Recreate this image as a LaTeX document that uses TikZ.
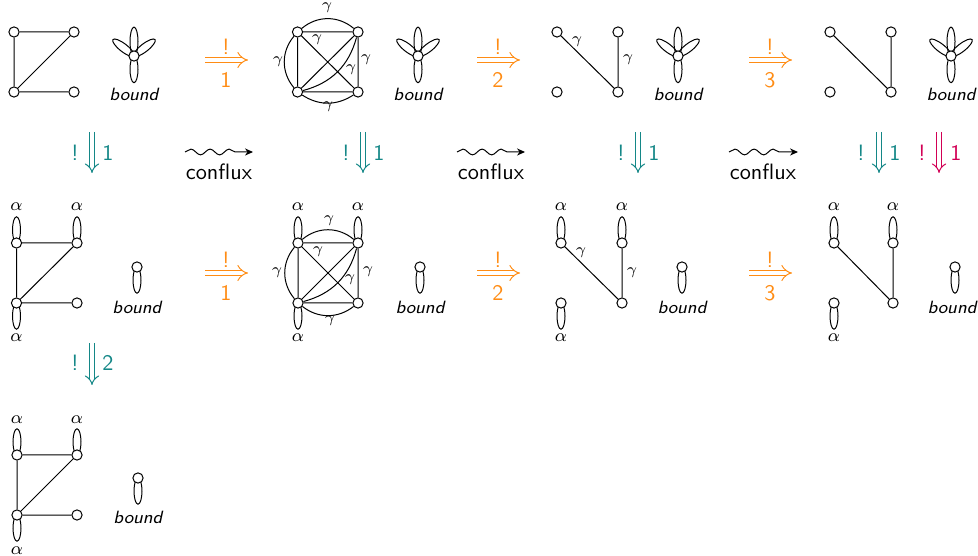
\documentclass[tikz,border=0pt]{standalone}
\usetikzlibrary{arrows.meta,decorations.pathmorphing,backgrounds}
\definecolor{myorange}{RGB}{255,140,20}
\definecolor{myteal}{RGB}{20,135,135}
\definecolor{mycrimson}{RGB}{210,0,85}
\newcommand\mypetal[3]{\draw[petal, shift={(#1.center)}, rotate=#2] (#3,0) ellipse [x radius=#3, y radius=1.8pt];}
\begin{document}
\begin{tikzpicture}[x=0.45pt,y=-0.45pt, font=\sffamily,
  vtx/.style={circle,draw,fill=white,inner sep=0pt,minimum size=4.6pt,line width=0.45pt},
  gedge/.style={line width=0.45pt},
  petal/.style={line width=0.45pt},
  boundlbl/.style={font=\sffamily\itshape\footnotesize, inner sep=0pt},
  glab/.style={font=\scriptsize, inner sep=0pt},
  alab/.style={font=\footnotesize, inner sep=0pt},
  txt/.style={inner sep=0pt},
  harr/.style={draw=myorange, line width=0.45pt, double, double distance=2.1pt, -{Implies}},
  varr/.style={line width=0.45pt, double, double distance=1.8pt, -{Implies}},
  squig/.style={line width=0.45pt, decorate, decoration={snake, amplitude=1.3pt, segment length=8.6pt, post length=4.5pt}, -{Stealth[length=3.6pt,width=3.2pt]}}
]
\useasboundingbox (0,0) rectangle (978,556);

% ===== Row 1 =====
% graph 1
\node[vtx] (r1a) at (14,32) {};
\node[vtx] (r1b) at (74,32) {};
\node[vtx] (r1c) at (14,92) {};
\node[vtx] (r1d) at (74,92) {};
\draw[gedge] (r1a) -- (r1b) (r1a) -- (r1c) (r1c) -- (r1b) (r1c) -- (r1d);
\node[vtx] (f1) at (134,56) {};
\node[boundlbl] (bl1) at (134,94) {bound};

\coordinate (h1s) at (205,60); \coordinate (h1e) at (248,60);
\draw[harr] (h1s) -- (h1e);
\node[txt, text=myorange] (h1x) at (226,47) {!};
\node[txt, text=myorange] (h1n) at (226,80) {1};

% graph 2
\node[vtx] (r2a) at (297.5,32) {};
\node[vtx] (r2b) at (358,32) {};
\node[vtx] (r2c) at (297.5,92) {};
\node[vtx] (r2d) at (358,92) {};
\draw[gedge] (r2a) -- (r2b) (r2a) -- (r2c) (r2b) -- (r2d) (r2c) -- (r2d) (r2a) -- (r2d) (r2c) -- (r2b);
\draw[gedge] (r2a) to[bend left=40] (r2b);
\draw[gedge] (r2a) to[bend right=40] (r2c);
\draw[gedge] (r2c) to[bend right=33] (r2d);
\draw[gedge] (r2c) to[bend right=30] (r2b);
\node[glab] (r2g1) at (327,8) {$\gamma$};
\node[glab] (r2g2) at (317,40) {$\gamma$};
\node[glab] (r2g3) at (278,62) {$\gamma$};
\node[glab] (r2g4) at (351,70) {$\gamma$};
\node[glab] (r2g5) at (366,60) {$\gamma$};
\node[glab] (r2g6) at (328,107) {$\gamma$};
\node[vtx] (f2) at (418,56) {};
\node[boundlbl] (bl2) at (418,94) {bound};

\coordinate (h2s) at (477,60); \coordinate (h2e) at (520,60);
\draw[harr] (h2s) -- (h2e);
\node[txt, text=myorange] (h2x) at (498,47) {!};
\node[txt, text=myorange] (h2n) at (498,80) {2};

% graph 3
\node[vtx] (r3a) at (557,32) {};
\node[vtx] (r3b) at (618,32) {};
\node[vtx] (r3c) at (557,92) {};
\node[vtx] (r3d) at (618,92) {};
\draw[gedge] (r3a) -- (r3d) (r3b) -- (r3d);
\node[glab] (r3g1) at (577,42) {$\gamma$};
\node[glab] (r3g2) at (628,60) {$\gamma$};
\node[vtx] (f3) at (678,56) {};
\node[boundlbl] (bl3) at (678,94) {bound};

\coordinate (h3s) at (749,60); \coordinate (h3e) at (792,60);
\draw[harr] (h3s) -- (h3e);
\node[txt, text=myorange] (h3x) at (770,47) {!};
\node[txt, text=myorange] (h3n) at (770,80) {3};

% graph 4
\node[vtx] (r4a) at (830,32) {};
\node[vtx] (r4b) at (891,32) {};
\node[vtx] (r4c) at (830,92) {};
\node[vtx] (r4d) at (891,92) {};
\draw[gedge] (r4a) -- (r4d) (r4b) -- (r4d);
\node[vtx] (f4) at (951,56) {};
\node[boundlbl] (bl4) at (951,94) {bound};

% ===== middle arrows =====
\coordinate (v1s) at (92,132); \coordinate (v1e) at (92,173);
\draw[varr, draw=myteal] (v1s) -- (v1e);
\node[txt, text=myteal] (v1x) at (75,153) {!};
\node[txt, text=myteal] (v1n) at (108,153) {1};

\coordinate (c1s) at (185,152); \coordinate (c1e) at (253,152);
\draw[squig] (c1s) -- (c1e);
\node[txt] (c1t) at (219,172) {conflux};

\coordinate (v2s) at (363,132); \coordinate (v2e) at (363,173);
\draw[varr, draw=myteal] (v2s) -- (v2e);
\node[txt, text=myteal] (v2x) at (346,153) {!};
\node[txt, text=myteal] (v2n) at (379,153) {1};

\coordinate (c2s) at (457,152); \coordinate (c2e) at (525,152);
\draw[squig] (c2s) -- (c2e);
\node[txt] (c2t) at (491,172) {conflux};

\coordinate (v3s) at (638,132); \coordinate (v3e) at (638,173);
\draw[varr, draw=myteal] (v3s) -- (v3e);
\node[txt, text=myteal] (v3x) at (621,153) {!};
\node[txt, text=myteal] (v3n) at (654,153) {1};

\coordinate (c3s) at (729,152); \coordinate (c3e) at (798,152);
\draw[squig] (c3s) -- (c3e);
\node[txt] (c3t) at (763,172) {conflux};

\coordinate (v4s) at (879,132); \coordinate (v4e) at (879,173);
\draw[varr, draw=myteal] (v4s) -- (v4e);
\node[txt, text=myteal] (v4x) at (861,153) {!};
\node[txt, text=myteal] (v4n) at (895,153) {1};

\coordinate (v5s) at (939,132); \coordinate (v5e) at (939,173);
\draw[varr, draw=mycrimson] (v5s) -- (v5e);
\node[txt, text=mycrimson] (v5x) at (922,153) {!};
\node[txt, text=mycrimson] (v5n) at (956,153) {1};

% ===== Row 2 =====
\node[vtx] (s1a) at (16.5,243) {};
\node[vtx] (s1b) at (77,243) {};
\node[vtx] (s1c) at (16.5,303) {};
\node[vtx] (s1d) at (77,303) {};
\draw[gedge] (s1a) -- (s1b) (s1a) -- (s1c) (s1c) -- (s1b) (s1c) -- (s1d);
\node[alab] (s1al1) at (16.5,207) {$\alpha$};
\node[alab] (s1al2) at (77,207) {$\alpha$};
\node[alab] (s1al3) at (16.5,338) {$\alpha$};
\node[vtx] (b1) at (137,267) {};
\node[boundlbl] (bl5) at (137,307) {bound};

\coordinate (h4s) at (205,273); \coordinate (h4e) at (248,273);
\draw[harr] (h4s) -- (h4e);
\node[txt, text=myorange] (h4x) at (226,260) {!};
\node[txt, text=myorange] (h4n) at (226,293) {1};

\node[vtx] (s2a) at (298,243) {};
\node[vtx] (s2b) at (358,243) {};
\node[vtx] (s2c) at (298,303) {};
\node[vtx] (s2d) at (358,303) {};
\draw[gedge] (s2a) -- (s2b) (s2a) -- (s2c) (s2b) -- (s2d) (s2c) -- (s2d) (s2a) -- (s2d) (s2c) -- (s2b);
\draw[gedge] (s2a) to[bend left=40] (s2b);
\draw[gedge] (s2a) to[bend right=40] (s2c);
\draw[gedge] (s2c) to[bend right=38] (s2d);
\draw[gedge] (s2c) to[bend right=30] (s2b);
\node[glab] (s2g1) at (329,221) {$\gamma$};
\node[glab] (s2g2) at (318,252) {$\gamma$};
\node[glab] (s2g3) at (277,273) {$\gamma$};
\node[glab] (s2g4) at (350,280) {$\gamma$};
\node[glab] (s2g5) at (368,272) {$\gamma$};
\node[glab] (s2g6) at (330,321) {$\gamma$};
\node[alab] (s2al1) at (298,207) {$\alpha$};
\node[alab] (s2al2) at (358,207) {$\alpha$};
\node[alab] (s2al3) at (298,338) {$\alpha$};
\node[vtx] (b2) at (420,267) {};
\node[boundlbl] (bl6) at (420,307) {bound};

\coordinate (h5s) at (477,273); \coordinate (h5e) at (520,273);
\draw[harr] (h5s) -- (h5e);
\node[txt, text=myorange] (h5x) at (498,260) {!};
\node[txt, text=myorange] (h5n) at (498,293) {2};

\node[vtx] (s3a) at (561,243) {};
\node[vtx] (s3b) at (622,243) {};
\node[vtx] (s3c) at (561,303) {};
\node[vtx] (s3d) at (622,303) {};
\draw[gedge] (s3a) -- (s3d) (s3b) -- (s3d);
\node[glab] (s3g1) at (581,253) {$\gamma$};
\node[glab] (s3g2) at (632,273) {$\gamma$};
\node[alab] (s3al1) at (561,207) {$\alpha$};
\node[alab] (s3al2) at (622,207) {$\alpha$};
\node[alab] (s3al3) at (561,338) {$\alpha$};
\node[vtx] (b3) at (682,267) {};
\node[boundlbl] (bl7) at (682,307) {bound};

\coordinate (h6s) at (749,273); \coordinate (h6e) at (792,273);
\draw[harr] (h6s) -- (h6e);
\node[txt, text=myorange] (h6x) at (770,260) {!};
\node[txt, text=myorange] (h6n) at (770,293) {3};

\node[vtx] (s4a) at (834,243) {};
\node[vtx] (s4b) at (893,243) {};
\node[vtx] (s4c) at (834,303) {};
\node[vtx] (s4d) at (893,303) {};
\draw[gedge] (s4a) -- (s4d) (s4b) -- (s4d);
\node[alab] (s4al1) at (834,207) {$\alpha$};
\node[alab] (s4al2) at (893,207) {$\alpha$};
\node[alab] (s4al3) at (834,338) {$\alpha$};
\node[vtx] (b4) at (955,267) {};
\node[boundlbl] (bl8) at (952,307) {bound};

% ===== Row 3 =====
\coordinate (v6s) at (92,343); \coordinate (v6e) at (92,385);
\draw[varr, draw=myteal] (v6s) -- (v6e);
\node[txt, text=myteal] (v6x) at (75,363) {!};
\node[txt, text=myteal] (v6n) at (108,363) {2};

\node[vtx] (t1a) at (17,455) {};
\node[vtx] (t1b) at (77,455) {};
\node[vtx] (t1c) at (17,515) {};
\node[vtx] (t1d) at (77,515) {};
\draw[gedge] (t1a) -- (t1b) (t1a) -- (t1c) (t1c) -- (t1b) (t1c) -- (t1d);
\node[alab] (t1al1) at (17,420) {$\alpha$};
\node[alab] (t1al2) at (77,420) {$\alpha$};
\node[alab] (t1al3) at (17,551) {$\alpha$};
\node[vtx] (b5) at (138,478) {};
\node[boundlbl] (bl9) at (138,517) {bound};

% ===== petals / loops (behind the vertices) =====
\begin{scope}[on background layer]
  \foreach \f in {f1,f2,f3,f4} {
    \mypetal{\f}{90}{6.5pt} \mypetal{\f}{142}{6pt} \mypetal{\f}{38}{6pt} \mypetal{\f}{270}{6pt}
  }
  \foreach \v in {s1a,s1b,s2a,s2b,s3a,s3b,s4a,s4b,t1a,t1b} { \mypetal{\v}{90}{5.9pt} }
  \foreach \v in {s1c,s2c,s3c,s4c,t1c,b1,b2,b3,b4,b5} { \mypetal{\v}{270}{5.9pt} }
\end{scope}
\end{tikzpicture}
\end{document}
